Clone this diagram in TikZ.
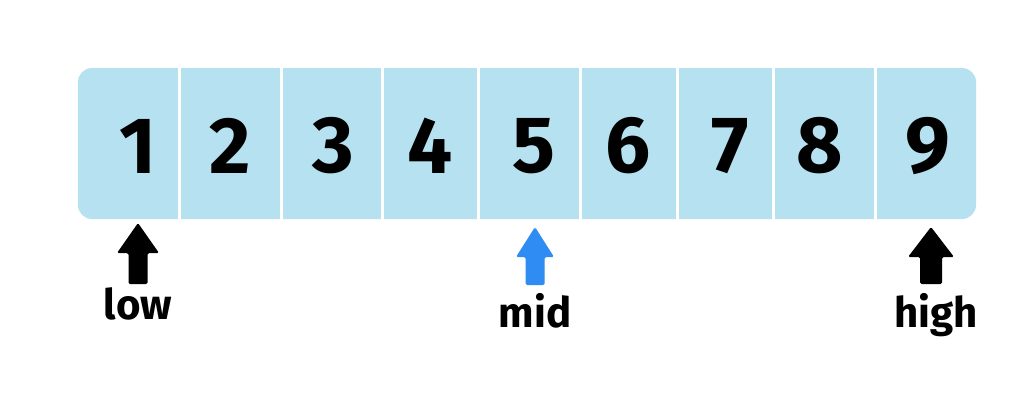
\documentclass[tikz,border=0pt]{standalone}
\usepackage{fontspec}
\setmainfont{Fira Sans}
\definecolor{cellblue}{HTML}{B6E1F0}
\definecolor{midblue}{HTML}{2F8CF2}
\tikzset{
  digit/.style={font=\fontsize{80}{84}\selectfont\bfseries, text=black, inner sep=0pt},
  lbl/.style={font=\fontsize{42}{46}\selectfont\bfseries, text=black, inner sep=0pt, anchor=base},
  sep/.style={white, line width=3pt},
}
\newcommand{\blockarrow}[7]{% x, tip, headbase, headhalf, shafthalf, bottom, colour
  \fill[#7, rounded corners=1.5pt] (#1,#2) -- (#1+#4,#3) -- (#1+#5,#3) -- (#1+#5,#6) -- (#1-#5,#6) -- (#1-#5,#3) -- (#1-#4,#3) -- cycle;}
\begin{document}
\begin{tikzpicture}[x=1pt,y=-1pt]
\useasboundingbox (0,0) rectangle (1032,400);
\fill[white] (0,0) rectangle (1032,400);
\node[draw=none, fill=cellblue, rounded corners=14pt, minimum width=898pt, minimum height=151pt, inner sep=0pt] (bar) at (527,143.5) {};
\foreach \x in {179.5,281,382.5,478,580,677,773.5,875} {
  \draw[sep] (\x,68) -- (\x,219);
}
\node[digit] (d1) at (138,146) {1};
\node[digit] (d2) at (230,146) {2};
\node[digit] (d3) at (333,146) {3};
\node[digit] (d4) at (430,146) {4};
\node[digit] (d5) at (534,146) {5};
\node[digit] (d6) at (628,146) {6};
\node[digit] (d7) at (730,146) {7};
\node[digit] (d8) at (820,146) {8};
\node[digit] (d9) at (928,146) {9};
\blockarrow{138}{223}{253}{21}{9.5}{284}{black}
\blockarrow{535}{227}{257}{19}{9.5}{285}{midblue}
\blockarrow{931}{227}{257}{23}{11}{284}{black}
\node[lbl] (low) at (138,319) {low};
\node[lbl] (mid) at (535,327) {mid};
\node[lbl] (high) at (936,327) {high};
\end{tikzpicture}
\end{document}
